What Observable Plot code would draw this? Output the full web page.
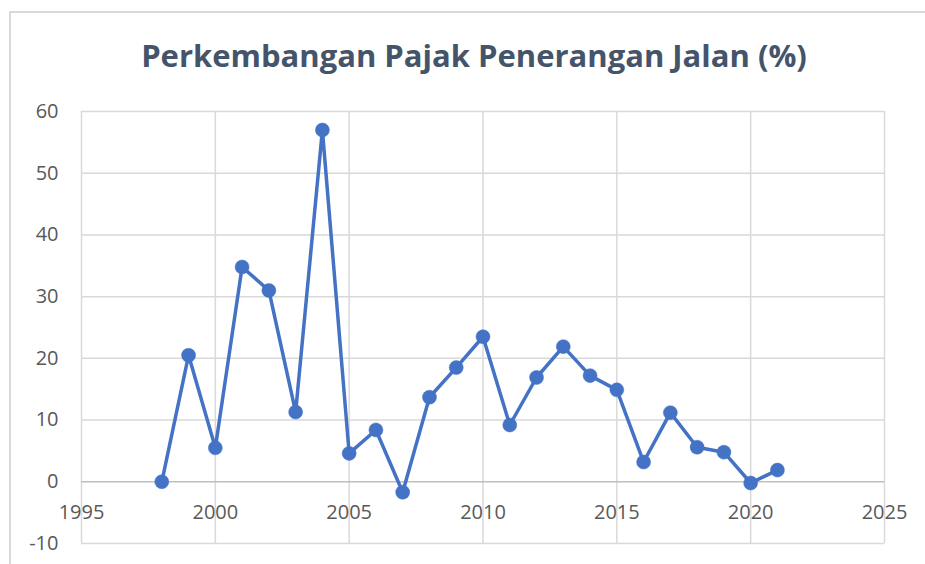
<!DOCTYPE html>
<html>
<head>
<meta charset="utf-8">
<script src="https://cdn.jsdelivr.net/npm/d3@7"></script>
<script src="https://cdn.jsdelivr.net/npm/@observablehq/plot@0.6"></script>
<style>
  html, body { margin: 0; padding: 0; background: #fff; overflow: hidden; }
  #wrap { position: relative; width: 925px; height: 564px; overflow: hidden; background: #fff; }
  #frame { position: absolute; left: 9px; top: 11px; width: 1000px; height: 1000px; border: 2px solid #d9d9d9; box-sizing: border-box; }
  #title { position: absolute; left: 0; width: 948px; top: 34px; text-align: center; font-family: "Open Sans", sans-serif; font-weight: 700; font-size: 31px; color: #44546A; letter-spacing: 0px; }
  #chart { position: absolute; left: 0; top: 0; }
</style>
</head>
<body>
<div id="wrap">
  <div id="frame"></div>
  <div id="title">Perkembangan Pajak Penerangan Jalan (%)</div>
  <div id="chart"></div>
</div>
<script>
const years = [1998, 1999, 2000, 2001, 2002, 2003, 2004, 2005, 2006, 2007, 2008, 2009, 2010, 2011, 2012, 2013, 2014, 2015, 2016, 2017, 2018, 2019, 2020, 2021];
const values = [0, 20.5, 5.5, 34.8, 31.0, 11.3, 57.0, 4.6, 8.4, -1.7, 13.7, 18.5, 23.5, 9.2, 16.9, 21.9, 17.2, 14.9, 3.2, 11.2, 5.6, 4.8, -0.2, 1.9];
const xTicks = [1995, 2000, 2005, 2010, 2015, 2020, 2025];
const yTicks = [-10, 0, 10, 20, 30, 40, 50, 60];

const data = years.map((y, i) => ({year: y, value: values[i]}));

const plot = Plot.plot({
  width: 925,
  height: 564,
  marginLeft: 81,
  marginRight: 41,
  marginTop: 111,
  marginBottom: 21,
  style: {fontFamily: "'Open Sans', sans-serif", fontSize: "20px", color: "#595959", background: "transparent", overflow: "visible"},
  x: {domain: [1995, 2025], ticks: xTicks, axis: null},
  y: {domain: [-10, 60], ticks: yTicks, axis: null},
  marks: [
    Plot.ruleX(xTicks, {stroke: "#d9d9d9", strokeWidth: 1.5}),
    Plot.ruleY(yTicks.filter(d => d !== 0), {stroke: "#d9d9d9", strokeWidth: 1.5}),
    Plot.ruleY([0], {stroke: "#bfbfbf", strokeWidth: 1.5}),
    Plot.axisY({ticks: yTicks, tickSize: 0, tickPadding: 23, tickFormat: d => String(d), label: null, fill: "#595959"}),
    Plot.text(xTicks, {x: d => d, y: 0, dy: 31, text: d => String(d), fill: "#595959", fontSize: 20}),
    Plot.line(data, {x: "year", y: "value", stroke: "#4472C4", strokeWidth: 3.5, strokeLinejoin: "round"}),
    Plot.dot(data, {x: "year", y: "value", r: 7, fill: "#4472C4", stroke: "#4472C4", strokeWidth: 0.5})
  ]
});
document.getElementById("chart").appendChild(plot);
</script>
</body>
</html>
